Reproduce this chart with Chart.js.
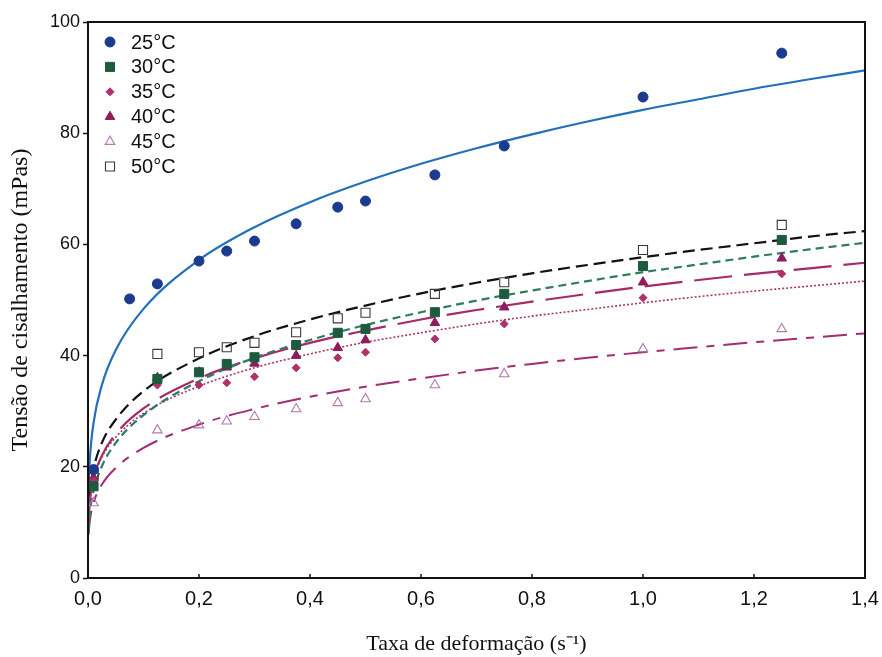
<!DOCTYPE html>
<html><head><meta charset="utf-8">
<script src="https://cdn.jsdelivr.net/npm/chart.js@4/dist/chart.umd.min.js"></script>
<style>html,body{margin:0;padding:0;background:#fff;}#wrap{width:882px;height:657px;}</style>
</head><body><div id="wrap"><canvas id="c" width="882" height="657"></canvas></div>
<script>
// ---- data ----
const seriesLabels = ['25°C', '30°C', '35°C', '40°C', '45°C', '50°C'];
const xTicks = [0, 0.2, 0.4, 0.6, 0.8, 1.0, 1.2, 1.4];
const yTicks = [0, 20, 40, 60, 80, 100];

// measured points (shear rate, s^-1)
const rate25 = [0.01, 0.075, 0.125, 0.2, 0.25, 0.3, 0.375, 0.45, 0.5, 0.625, 0.75, 1.0, 1.25];
const rateOther = [0.01, 0.125, 0.2, 0.25, 0.3, 0.375, 0.45, 0.5, 0.625, 0.75, 1.0, 1.25];
const tau25 = [19.5, 50.2, 52.9, 57.0, 58.8, 60.6, 63.7, 66.7, 67.8, 72.5, 77.7, 86.5, 94.4];
const tau30 = [16.5, 35.8, 37.0, 38.5, 39.7, 41.9, 44.1, 44.8, 47.8, 51.1, 56.1, 60.8];
const tau35 = [17.5, 34.7, 34.7, 35.1, 36.2, 37.8, 39.6, 40.6, 43.0, 45.7, 50.4, 54.7];
const tau40 = [18.0, 36.0, 37.0, 37.9, 38.6, 40.0, 41.4, 42.8, 45.9, 48.7, 53.2, 57.5];
const tau45 = [13.5, 26.6, 27.5, 28.2, 29.0, 30.4, 31.5, 32.2, 34.7, 36.7, 41.2, 44.8];
const tau50 = [18.5, 40.3, 40.6, 41.5, 42.3, 44.2, 46.7, 47.7, 51.1, 53.2, 59.0, 63.5];

// fitted curves, values
const rateFit = [0.001, 0.003, 0.01, 0.025, 0.05, 0.1, 0.2, 0.3, 0.4, 0.5, 0.6, 0.7, 0.8, 0.9, 1.0, 1.1, 1.2, 1.3, 1.4];
const fit25 = [16.0, 20.9, 27.9, 34.7, 41.0, 48.4, 57.2, 63.1, 67.6, 71.3, 74.5, 77.3, 79.8, 82.1, 84.2, 86.1, 88.0, 89.7, 91.3];
const fit30 = [8.3, 11.3, 15.6, 20.1, 24.3, 29.3, 35.4, 39.6, 42.8, 45.5, 47.8, 49.9, 51.7, 53.4, 55.0, 56.4, 57.8, 59.1, 60.3];
const fit35 = [10.5, 13.5, 17.6, 21.7, 25.3, 29.6, 34.5, 37.8, 40.3, 42.4, 44.1, 45.7, 47.1, 48.3, 49.5, 50.6, 51.6, 52.5, 53.4];
const fit40 = [10.3, 13.4, 17.8, 22.0, 25.9, 30.5, 35.9, 39.5, 42.3, 44.5, 46.5, 48.2, 49.7, 51.1, 52.4, 53.6, 54.7, 55.7, 56.7];
const fit45 = [7.8, 10.1, 13.5, 16.8, 19.8, 23.4, 27.6, 30.4, 32.6, 34.4, 35.9, 37.3, 38.5, 39.6, 40.6, 41.5, 42.4, 43.2, 44.0];
const fit50 = [11.4, 14.7, 19.5, 24.3, 28.5, 33.6, 39.5, 43.5, 46.5, 49.0, 51.2, 53.1, 54.8, 56.3, 57.7, 59.0, 60.2, 61.4, 62.4];

// ---- build datasets ----
const pts = (xs, ys) => xs.map((x, i) => ({x: x, y: ys[i]}));

const markerDefs = [
  {style: 'circle',   r: 5,   fill: '#1c3a8e', stroke: '#1c3a8e', lw: 1},
  {style: 'rect',     r: 6.4, fill: '#1d5a3e', stroke: '#1d5a3e', lw: 1},
  {style: 'rectRot',  r: 4,   fill: '#b0306a', stroke: '#b0306a', lw: 1},
  {style: 'triangle', r: 5.5, fill: '#8c1c5c', stroke: '#8c1c5c', lw: 1},
  {style: 'triangle', r: 5.5, fill: 'rgba(0,0,0,0)', stroke: '#b27aae', lw: 1.1},
  {style: 'rect',     r: 6.4, fill: 'rgba(0,0,0,0)', stroke: '#3a3a3a', lw: 1.1}
];
const pointSets = [pts(rate25, tau25), pts(rateOther, tau30), pts(rateOther, tau35), pts(rateOther, tau40), pts(rateOther, tau45), pts(rateOther, tau50)];
const lineDefs = [
  {data: fit25, color: '#2270ba', dash: [],            w: 2.2},
  {data: fit30, color: '#2e7d5e', dash: [8, 5],        w: 2.2},
  {data: fit35, color: '#a93468', dash: [2, 2],        w: 1.6},
  {data: fit40, color: '#a52a66', dash: [38, 12],      w: 2.2},
  {data: fit45, color: '#a32d72', dash: [24, 9, 8, 9], w: 2.0},
  {data: fit50, color: '#111111', dash: [12, 6],       w: 2.2}
];

const datasets = [];
lineDefs.forEach((l, i) => {
  datasets.push({
    type: 'line', label: 'fit ' + seriesLabels[i], isFit: true,
    data: pts(rateFit, l.data), borderColor: l.color, borderWidth: l.w,
    borderDash: l.dash, pointRadius: 0, fill: false, cubicInterpolationMode: 'monotone',
    borderCapStyle: 'butt', order: 2
  });
});
markerDefs.forEach((m, i) => {
  datasets.push({
    type: 'scatter', label: seriesLabels[i], isFit: false,
    data: pointSets[i], showLine: false, pointStyle: m.style, pointRadius: m.r,
    pointHoverRadius: m.r, pointBackgroundColor: m.fill, pointBorderColor: m.stroke,
    pointBorderWidth: m.lw, order: 1
  });
});

function drawMarker(ctx, m, x, y) {
  ctx.save();
  ctx.beginPath();
  const r = m.r;
  if (m.style === 'circle') ctx.arc(x, y, r, 0, Math.PI * 2);
  else if (m.style === 'rect') { const s = r * Math.SQRT1_2; ctx.rect(x - s, y - s, 2 * s, 2 * s); }
  else if (m.style === 'rectRot') { ctx.moveTo(x - r, y); ctx.lineTo(x, y - r); ctx.lineTo(x + r, y); ctx.lineTo(x, y + r); ctx.closePath(); }
  else if (m.style === 'triangle') {
    let a = 0;
    ctx.moveTo(x + Math.sin(a) * r, y - Math.cos(a) * r);
    a += 2 * Math.PI / 3; ctx.lineTo(x + Math.sin(a) * r, y - Math.cos(a) * r);
    a += 2 * Math.PI / 3; ctx.lineTo(x + Math.sin(a) * r, y - Math.cos(a) * r);
    ctx.closePath();
  }
  ctx.fillStyle = m.fill; ctx.fill();
  ctx.lineWidth = m.lw; ctx.strokeStyle = m.stroke; ctx.stroke();
  ctx.restore();
}

const framePlugin = {
  id: 'frame',
  afterDraw(chart) {
    const ctx = chart.ctx, a = chart.chartArea;
    ctx.save();
    ctx.strokeStyle = '#111'; ctx.lineWidth = 2;
    ctx.strokeRect(a.left, a.top, a.right - a.left, a.bottom - a.top);
    // inward x ticks
    const xs = chart.scales.x;
    ctx.lineWidth = 1.5;
    xTicks.forEach(v => {
      const px = xs.getPixelForValue(v);
      ctx.beginPath(); ctx.moveTo(px, a.bottom); ctx.lineTo(px, a.bottom - 4); ctx.stroke();
    });
    // legend
    ctx.font = '20px "Liberation Sans", Arial, sans-serif';
    ctx.fillStyle = '#111'; ctx.textBaseline = 'middle'; ctx.textAlign = 'left';
    seriesLabels.forEach((lab, i) => {
      const y = 42 + i * 24.9;
      drawMarker(ctx, markerDefs[i], 110, y);
      ctx.fillStyle = '#111';
      ctx.fillText(lab, 131, y + 1);
    });
    ctx.restore();
  }
};

new Chart(document.getElementById('c'), {
  data: {datasets: datasets},
  options: {
    responsive: false, animation: false, devicePixelRatio: 1,
    layout: {padding: {left: 0, right: 17, top: 22, bottom: 0}},
    plugins: {legend: {display: false}, tooltip: {enabled: false}},
    scales: {
      x: {
        type: 'linear', min: 0, max: 1.4,
        afterBuildTicks: s => { s.ticks = xTicks.map(v => ({value: v})); },
        afterFit: s => { s.height = 79; s.paddingLeft = 0; s.paddingRight = 0; },
        ticks: {
          callback: v => Number(v).toFixed(1).replace('.', ','),
          font: {family: '"Liberation Sans", Arial, sans-serif', size: 20}, color: '#111',
          padding: 9, maxRotation: 0
        },
        grid: {display: true, drawOnChartArea: false, drawTicks: false},
        border: {display: true, color: '#111', width: 2},
        title: {display: true, text: 'Taxa de deformação (s⁻¹)', color: '#111',
          font: {family: '"Liberation Serif", "Times New Roman", serif', size: 22},
          padding: {top: 16, bottom: 0}}
      },
      y: {
        type: 'linear', min: 0, max: 100,
        afterBuildTicks: s => { s.ticks = yTicks.map(v => ({value: v})); },
        afterFit: s => { s.width = 88; s.paddingTop = 0; s.paddingBottom = 0; },
        ticks: {
          font: {family: '"Liberation Sans", Arial, sans-serif', size: 18}, color: '#111',
          padding: 3
        },
        grid: {display: true, drawOnChartArea: false, drawTicks: true, tickLength: 5, color: '#111', tickWidth: 1.5},
        border: {display: true, color: '#111', width: 2},
        title: {display: true, text: 'Tensão de cisalhamento (mPas)', color: '#111',
          font: {family: '"Liberation Serif", "Times New Roman", serif', size: 24},
          padding: {top: 6, bottom: 0}}
      }
    }
  },
  plugins: [framePlugin]
});
</script></body></html>
